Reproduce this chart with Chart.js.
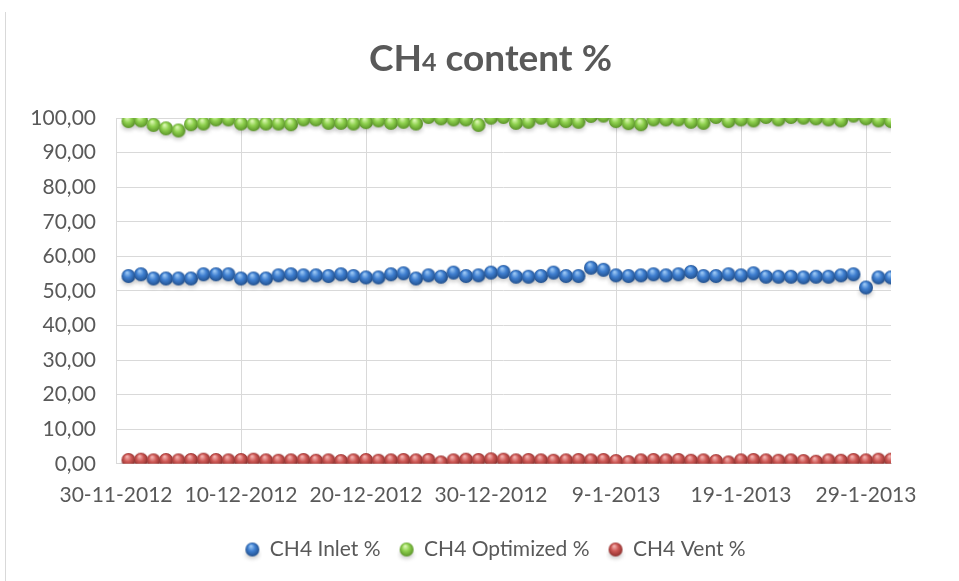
<!DOCTYPE html>
<html lang="en">
<head>
<meta charset="UTF-8">
<title>CH4 content %</title>
<script src="https://cdn.jsdelivr.net/npm/chart.js"></script>
<style>
  html, body { margin: 0; padding: 0; background: #fff; }
  #wrap { position: relative; width: 959px; height: 581px; }
  #frame { position: absolute; left: 5px; top: 12px; bottom: 0; border-left: 1px solid #d9d9d9; }
  #title {
    position: absolute; left: 22px; right: 0; top: 34px;
    text-align: center; font-family: Lato, sans-serif; font-weight: bold;
    font-size: 37px; color: #595959;
  }
  #title span { font-size: 25px; }
</style>
</head>
<body>
<div id="wrap">
  <div id="frame"></div>
  <div id="title">CH<span>4</span> content %</div>
  <canvas id="chart"></canvas>
</div>

<script>
// daily readings, 1-12-2012 .. 31-1-2013 (x = days after 30-11-2012)
const seriesNames = ['CH4 Inlet %', 'CH4 Optimized %', 'CH4 Vent %'];

const inlet = [
  54.3, 54.8, 53.6, 53.6, 53.6, 53.6, 54.8, 54.8, 54.8, 53.6,
  53.6, 53.6, 54.5, 54.8, 54.5, 54.5, 54.3, 54.8, 54.3, 53.9,
  53.9, 54.8, 55.1, 53.6, 54.5, 54.1, 55.3, 54.3, 54.5, 55.3,
  55.5, 54.1, 54.1, 54.3, 55.3, 54.3, 54.3, 56.7, 56.1, 54.5,
  54.3, 54.5, 54.8, 54.5, 54.8, 55.5, 54.3, 54.3, 54.8, 54.5,
  55.1, 54.1, 54.1, 54.1, 53.9, 54.1, 54.1, 54.5, 54.8, 51.0,
  53.9, 53.9
];

const optimized = [
  99.1, 99.3, 98.0, 97.0, 96.4, 98.2, 98.4, 99.6, 99.6, 98.4,
  98.2, 98.4, 98.4, 98.2, 99.6, 99.6, 98.6, 98.6, 98.4, 98.8,
  99.3, 98.6, 98.9, 98.4, 100.3, 99.9, 99.6, 99.6, 98.0, 100.1,
  100.3, 98.6, 98.9, 100.1, 99.1, 99.1, 98.9, 100.6, 100.7, 99.1,
  98.5, 98.2, 99.6, 99.6, 99.6, 98.9, 98.6, 100.3, 99.1, 99.6,
  99.3, 100.3, 99.6, 100.3, 100.1, 99.9, 99.6, 99.3, 100.7, 99.9,
  99.3, 99.1
];

const vent = [
  1.1, 1.2, 1.0, 1.1, 1.0, 1.1, 1.2, 1.1, 1.0, 1.1,
  1.2, 1.0, 0.9, 1.0, 1.1, 0.9, 1.0, 0.8, 1.0, 1.1,
  0.9, 1.0, 1.1, 1.0, 1.1, 0.4, 1.0, 1.2, 1.1, 1.3,
  1.2, 1.0, 1.1, 1.0, 0.9, 1.0, 1.1, 1.0, 1.1, 0.8,
  0.5, 1.0, 1.1, 1.0, 1.1, 0.9, 1.0, 0.8, 0.4, 1.0,
  1.1, 1.0, 0.9, 1.0, 0.8, 0.6, 1.0, 0.9, 1.1, 1.0,
  1.2, 1.2
];

const tickDays = [0, 10, 20, 30, 40, 50, 60];
const tickLabels = ['30-11-2012', '10-12-2012', '20-12-2012', '30-12-2012', '9-1-2013', '19-1-2013', '29-1-2013'];

// little shaded ball used as marker
function ball(light, mid, dark) {
  const c = document.createElement('canvas');
  c.width = 20; c.height = 28;
  const g = c.getContext('2d');
  g.filter = 'blur(2px)';
  g.fillStyle = 'rgba(0,0,0,0.22)';
  g.beginPath();
  g.ellipse(10, 19, 7, 4, 0, 0, Math.PI * 2);
  g.fill();
  g.filter = 'none';
  const grad = g.createRadialGradient(8.5, 10.5, 0.5, 10, 14, 7.5);
  grad.addColorStop(0, light);
  grad.addColorStop(0.45, mid);
  grad.addColorStop(1, dark);
  g.fillStyle = grad;
  g.beginPath();
  g.arc(10, 14, 7, 0, Math.PI * 2);
  g.fill();
  return c;
}

const blueBall = ball('#9cc8f5', '#3f7fd0', '#1f4c88');
const greenBall = ball('#dcf8b4', '#8fd14f', '#568f25');
const redBall = ball('#f3b2b0', '#cd5855', '#8a2d2b');

function toPoints(arr) {
  return arr.map((v, i) => ({ x: i + 1, y: v }));
}

const ds = (label, arr, img, col) => ({
  label: label,
  data: toPoints(arr),
  showLine: false,
  pointStyle: img,
  backgroundColor: col,
  borderColor: col
});

const gridCol = '#d9d9d9';
const textCol = '#595959';
const font = { family: 'Lato, sans-serif', size: 21 };

const chart = new Chart(document.getElementById('chart'), {
  type: 'line',
  data: {
    datasets: [
      ds(seriesNames[0], inlet, blueBall, '#3f7fd0'),
      ds(seriesNames[1], optimized, greenBall, '#8fd14f'),
      ds(seriesNames[2], vent, redBall, '#cd5855')
    ]
  },
  options: {
    responsive: true,
    maintainAspectRatio: false,
    animation: false,
    layout: { padding: { top: 118, right: 68, left: 0, bottom: 4 } },
    plugins: {
      title: { display: false },
      tooltip: { enabled: false },
      legend: {
        position: 'bottom',
        labels: {
          usePointStyle: true,
          pointStyleWidth: 14,
          color: textCol,
          font: font,
          padding: 19
        }
      }
    },
    scales: {
      x: {
        type: 'linear',
        min: 0,
        max: 62,
        afterBuildTicks: s => { s.ticks = tickDays.map(v => ({ value: v })); },
        ticks: {
          color: textCol,
          font: font,
          padding: 19,
          maxRotation: 0,
          callback: v => tickLabels[tickDays.indexOf(v)]
        },
        grid: { color: gridCol, drawTicks: false },
        border: { color: gridCol }
      },
      y: {
        min: 0,
        max: 100,
        afterFit: s => { s.width = 116; },
        ticks: {
          stepSize: 10,
          color: textCol,
          font: font,
          padding: 20,
          callback: v => v.toFixed(2).replace('.', ',')
        },
        grid: { color: gridCol, drawTicks: false },
        border: { display: false }
      }
    }
  }
});

// Excel centres the legend a bit right of the canvas middle; nudge it there
const legendDraw = chart.legend.draw.bind(chart.legend);
chart.legend.draw = function () {
  chart.ctx.save();
  chart.ctx.translate(50, -7);
  legendDraw();
  chart.ctx.restore();
};
chart.draw();
</script>
</body>
</html>
